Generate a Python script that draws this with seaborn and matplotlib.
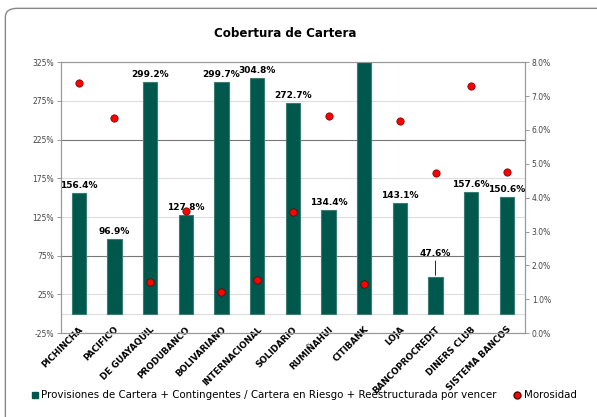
import matplotlib
matplotlib.use('Agg')
import matplotlib.pyplot as plt
import seaborn as sns
import pandas as pd
from matplotlib.patches import FancyBboxPatch
from matplotlib.lines import Line2D

# ── Data ──────────────────────────────────────────────────────────────────
bancos = ['PICHINCHA', 'PACIFICO', 'DE GUAYAQUIL', 'PRODUBANCO', 'BOLIVARIANO',
          'INTERNACIONAL', 'SOLIDARIO', 'RUMIÑAHUI', 'CITIBANK', 'LOJA',
          'BANCOPROCREDIT', 'DINERS CLUB', 'SISTEMA BANCOS']
cobertura = [156.4, 96.9, 299.2, 127.8, 299.7, 304.8, 272.7, 134.4, 340.0,
             143.1, 47.6, 157.6, 150.6]
cobertura_txt = ['156.4%', '96.9%', '299.2%', '127.8%', '299.7%', '304.8%',
                 '272.7%', '134.4%', '', '143.1%', '47.6%', '157.6%', '150.6%']
morosidad = [7.37, 6.34, 1.50, 3.60, 1.21, 1.56, 3.57, 6.40, 1.45, 6.25,
             4.72, 7.29, 4.75]
left_ticks = [-25, 25, 75, 125, 175, 225, 275, 325]
right_ticks = [0, 1, 2, 3, 4, 5, 6, 7, 8]

df = pd.DataFrame({'banco': bancos, 'cobertura': cobertura, 'morosidad': morosidad})

BAR = '#00574B'
sns.set_style('white')
plt.rcParams['font.family'] = ['DejaVu Sans']
plt.rcParams['text.color'] = 'black'
plt.rcParams['xtick.color'] = 'black'

fig = plt.figure(figsize=(5.97, 4.17), dpi=100)
frame = FancyBboxPatch((0.009, -0.2), 1.2, 1.18, transform=fig.transFigure,
                       boxstyle='round,pad=0,rounding_size=0.02',
                       facecolor='none', edgecolor='#888888', lw=1.0)
fig.patches.append(frame)

ax = fig.add_axes([0.102, 0.201, 0.777, 0.650])
sns.barplot(data=df, x='banco', y='cobertura', color=BAR, width=0.4,
            edgecolor='#3a7d72', linewidth=0.8, saturation=1, ax=ax, zorder=2)
ax.set_ylim(-25, 325)
ax.set_yticks(left_ticks)
ax.set_yticklabels([f'{t}%' for t in left_ticks], fontsize=5.5, color='#444444')
for t in left_ticks:
    c = '#777777' if t in (75, 225) else '#dddddd'
    ax.axhline(t, color=c, lw=0.8, zorder=0)
ax.axhline(0, color='#dddddd', lw=0.8, zorder=0)
ax.set_xlabel('')
ax.set_ylabel('')
ax.set_xticks(range(len(bancos)))
ax.set_xticklabels(bancos, rotation=45, ha='right', rotation_mode='anchor',
                   fontsize=6.3, fontweight='bold', color='black')
ax.tick_params(axis='x', length=0, pad=-6)
ax.tick_params(axis='y', length=3, direction='out', left=True, pad=2, width=0.6, color='#888888')

for i, (v, t) in enumerate(zip(cobertura, cobertura_txt)):
    if not t:
        continue
    if t == '47.6%':
        ax.annotate(t, xy=(i, v + 2), xytext=(i, v + 25), ha='center', va='bottom',
                    fontsize=6.5, fontweight='bold', color='black',
                    arrowprops=dict(arrowstyle='-', color='black', lw=0.6,
                                    shrinkA=0, shrinkB=0))
    else:
        ax.text(i, v + 4, t, ha='center', va='bottom', fontsize=6.5,
                fontweight='bold', color='black')

ax2 = ax.twinx()
sns.scatterplot(data=df, x='banco', y='morosidad', color='red', edgecolor='#660000',
                s=28, linewidth=0.5, ax=ax2, zorder=3)
ax2.set_ylim(0, 8)
ax2.set_yticks(right_ticks)
ax2.set_yticklabels([f'{t:.1f}%' for t in right_ticks], fontsize=5.5, color='#444444')
ax2.set_ylabel('')
ax2.tick_params(axis='y', length=3, direction='out', right=True, pad=2, width=0.6, color='#888888')
ax2.set_xlim(-0.5, len(bancos) - 0.5)

for a in (ax, ax2):
    for s in a.spines.values():
        s.set_color('#999999')
        s.set_linewidth(0.8)

fig.text(0.477, 0.92, 'Cobertura de Cartera', ha='center', va='center',
         fontsize=8.6, fontweight='bold', color='black')

handles = [Line2D([], [], marker='s', ls='', color=BAR, markersize=5),
           Line2D([], [], marker='o', ls='', color='red', markeredgecolor='#660000',
                  markersize=5)]
labels = ['Provisiones de Cartera + Contingentes / Cartera en Riesgo + Reestructurada por vencer',
          'Morosidad']
fig.legend(handles, labels, loc='center', bbox_to_anchor=(0.508, 0.052), ncol=2,
           frameon=False, fontsize=7.4, handletextpad=0.1, columnspacing=1.5,
           handlelength=1, labelcolor='black')

fig.savefig('out.png', dpi=100, facecolor='white')
